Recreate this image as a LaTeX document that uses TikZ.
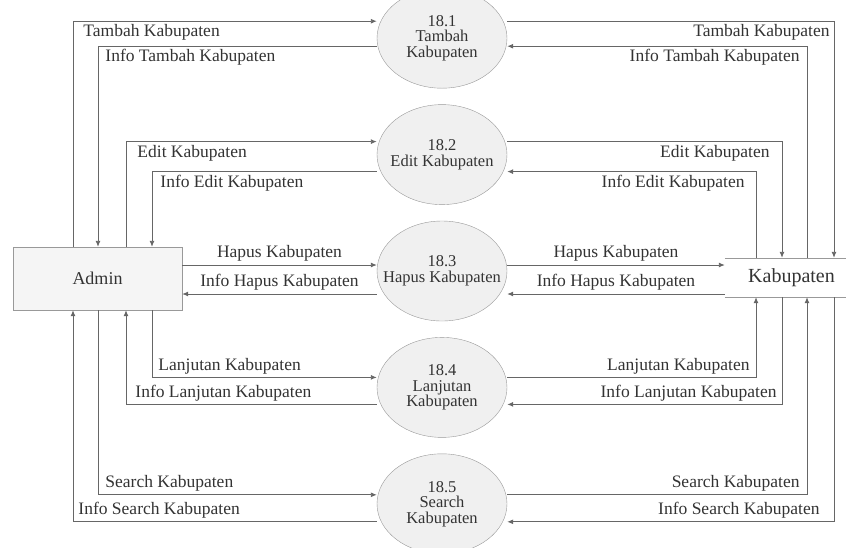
\documentclass[tikz,border=0pt]{standalone}
\usepackage{fontspec}
\setmainfont{Liberation Serif}
\usetikzlibrary{positioning,arrows.meta,shapes,calc}

\begin{document}
\begin{tikzpicture}[x=1pt,y=-1pt,node distance=16pt,
    every node/.style={font=\fontsize{16.5}{15.5}\selectfont,text=black!80},
    proc/.style={draw=black!40,fill=black!6,ellipse,minimum width=130pt,minimum height=100pt,inner sep=0pt},
    ent/.style={draw=black!40,fill=black!4,minimum width=169pt,minimum height=63pt,font=\fontsize{18}{18}\selectfont},
    flow/.style={draw=black!60,line width=0.9pt,-{Latex[length=6pt,width=5pt]}},
    lbl/.style={inner sep=3pt,font=\fontsize{17.5}{15.5}\selectfont}]
    \useasboundingbox (0,0) rectangle (846,547);
    % processes
    \node[proc,label={[align=center]center:18.3\\Hapus Kabupaten}] (p3) at (442,271) {};
    \node[proc,above=of p3,label={[align=center]center:18.2\\Edit Kabupaten}] (p2) {};
    \node[proc,above=of p2,label={[align=center]center:18.1\\Tambah\\Kabupaten}] (p1) {};
    \node[proc,below=of p3,label={[align=center]center:18.4\\Lanjutan\\Kabupaten}] (p4) {};
    \node[proc,below=of p4,label={[align=center]center:18.5\\Search\\Kabupaten}] (p5) {};
    % entity and data store
    \node[ent] (admin) at (97.5,278.5) {Admin};
    \node[minimum width=121pt,minimum height=39pt,inner sep=0pt,font=\fontsize{20}{20}\selectfont] (kab) at (785.5,277.5) {\hspace{12pt}Kabupaten};
    \draw[black!40] (kab.north west) -- (kab.north east) (kab.south west) -- (kab.south east);
    \coordinate (ah) at ([yshift=13.5pt]admin.east);
    \coordinate (ai) at ([yshift=-15.5pt]admin.east);
    \coordinate (kh) at ([yshift=12.5pt]kab.west);
    \coordinate (ki) at ([yshift=-16.5pt]kab.west);

    % Admin side
    \draw[flow] ([xshift=-24.5pt]admin.north) |- ([yshift=17pt]p1.west)
        node[lbl,pos=0.5,anchor=north west,xshift=7pt] {Tambah Kabupaten};
    \draw[flow] ([yshift=-8pt]p1.west) -| ([xshift=0.5pt]admin.north)
        node[lbl,pos=0.5,anchor=north west,xshift=4pt] {Info Tambah Kabupaten};
    \draw[flow] ([xshift=28.5pt]admin.north) |- ([yshift=13pt]p2.west)
        node[lbl,pos=0.5,anchor=north west,xshift=8pt] {Edit Kabupaten};
    \draw[flow] ([yshift=-17pt]p2.west) -| ([xshift=54.5pt]admin.north)
        node[lbl,pos=0.5,anchor=north west,xshift=5pt] {Info Edit Kabupaten};
    \draw[flow] (ah) -- (ah -| p3.west) node[lbl,midway,above] {Hapus Kabupaten};
    \draw[flow] (ai -| p3.west) -- (ai) node[lbl,midway,above] {Info Hapus Kabupaten};
    \draw[flow] ([xshift=54.5pt]admin.south) |- ([yshift=10pt]p4.west)
        node[lbl,pos=0.5,anchor=south west,xshift=3pt] {Lanjutan Kabupaten};
    \draw[flow] ([yshift=-17pt]p4.west) -| ([xshift=28.5pt]admin.south)
        node[lbl,pos=0.5,anchor=south west,xshift=6pt] {Info Lanjutan Kabupaten};
    \draw[flow] ([xshift=0.5pt]admin.south) |- ([yshift=9pt]p5.west)
        node[lbl,pos=0.5,anchor=south west,xshift=4pt] {Search Kabupaten};
    \draw[flow] ([yshift=-18pt]p5.west) -| ([xshift=-24.5pt]admin.south)
        node[lbl,pos=0.5,anchor=south west,xshift=2pt] {Info Search Kabupaten};

    % Kabupaten side
    \draw[flow] ([yshift=17pt]p1.east) -| ([xshift=48.5pt]kab.north)
        node[lbl,pos=0.5,anchor=north east,xshift=-1pt] {Tambah Kabupaten};
    \draw[flow] ([xshift=21.5pt]kab.north) |- ([yshift=-8pt]p1.east)
        node[lbl,pos=0.5,anchor=north east,xshift=-4pt] {Info Tambah Kabupaten};
    \draw[flow] ([yshift=13pt]p2.east) -| ([xshift=-3.5pt]kab.north)
        node[lbl,pos=0.5,anchor=north east,xshift=-9pt] {Edit Kabupaten};
    \draw[flow] ([xshift=-29.5pt]kab.north) |- ([yshift=-17pt]p2.east)
        node[lbl,pos=0.5,anchor=north east,xshift=-8pt] {Info Edit Kabupaten};
    \draw[flow] (kh -| p3.east) -- (kh) node[lbl,midway,above] {Hapus Kabupaten};
    \draw[flow] (ki) -- (ki -| p3.east) node[lbl,midway,above] {Info Hapus Kabupaten};
    \draw[flow] ([yshift=10pt]p4.east) -| ([xshift=-29.5pt]kab.south)
        node[lbl,pos=0.5,anchor=south east,xshift=-3pt] {Lanjutan Kabupaten};
    \draw[flow] ([xshift=-3.5pt]kab.south) |- ([yshift=-17pt]p4.east)
        node[lbl,pos=0.5,anchor=south east,xshift=-2pt] {Info Lanjutan Kabupaten};
    \draw[flow] ([yshift=9pt]p5.east) -| ([xshift=21.5pt]kab.south)
        node[lbl,pos=0.5,anchor=south east,xshift=-4pt] {Search Kabupaten};
    \draw[flow] ([xshift=48.5pt]kab.south) |- ([yshift=-18pt]p5.east)
        node[lbl,pos=0.5,anchor=south east,xshift=-11pt] {Info Search Kabupaten};
\end{tikzpicture}
\end{document}
